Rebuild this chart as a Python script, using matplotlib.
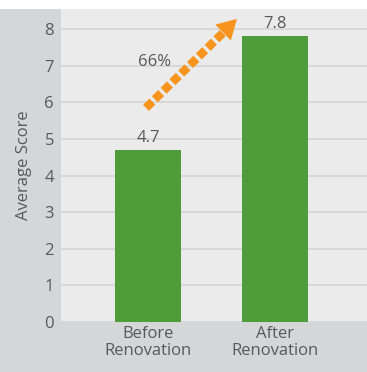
import matplotlib.pyplot as plt
from matplotlib.patches import Rectangle

categories = ['Before\nRenovation', 'After\nRenovation']
scores = [4.7, 7.8]
value_labels = ['4.7', '7.8']
change_label = '66%'
y_ticks = [0, 1, 2, 3, 4, 5, 6, 7, 8]

plt.rcParams['font.family'] = ['Open Sans', 'DejaVu Sans']

W, H = 367, 372
fig = plt.figure(figsize=(W / 100, H / 100), dpi=100)
fig.patch.set_facecolor('#d5d6d8')
fig.patches.append(Rectangle((0, 1 - 9 / H), 1, 9 / H, transform=fig.transFigure,
                             facecolor='white', edgecolor='none', zorder=0))

ax = fig.add_axes([61 / W, 50 / H, 306 / W, 313 / H])
ax.set_facecolor('#ebebeb')

x = list(range(len(categories)))
ax.bar(x, scores, width=0.52, color='#4f9c3b', zorder=3)

fs = 12
ax.set_xlim(-0.685, 1.724)
ax.set_ylim(0, 8.55)
ax.set_yticks(y_ticks)
ax.set_xticks(x)
ax.set_xticklabels(categories, linespacing=1.05)
ax.yaxis.grid(True, color='#d4d4d4', linewidth=1.2, zorder=0)
ax.tick_params(length=0, labelsize=fs, labelcolor='#595959')
ax.tick_params(axis='y', pad=5)
ax.tick_params(axis='x', pad=3)
for s in ax.spines.values():
    s.set_visible(False)
ax.set_ylabel('Average Score', fontsize=fs, color='#595959', labelpad=9)

for xi, v, lab in zip(x, scores, value_labels):
    ax.text(xi, v + 0.12, lab, ha='center', va='bottom', fontsize=fs, color='#595959')

# dashed growth arrow
x0, y0 = -0.016, 5.85
x1, y1 = 0.60, 7.93
ax.plot([x0, x1], [y0, y1], color='#f7941d', linewidth=6.1,
        linestyle=(0, (1.05, 0.4)), dash_capstyle='butt', zorder=4)
ax.annotate('', xy=(0.70, 8.28), xytext=(0.55, 7.77),
            arrowprops=dict(arrowstyle='-|>,head_length=14,head_width=8',
                            mutation_scale=1, color='#f7941d', linewidth=0,
                            shrinkA=0, shrinkB=0),
            zorder=5)
ax.text(0.055, 7.1, change_label, ha='center', va='center', fontsize=fs, color='#595959')

fig.savefig('out.png', dpi=100, facecolor=fig.get_facecolor())
